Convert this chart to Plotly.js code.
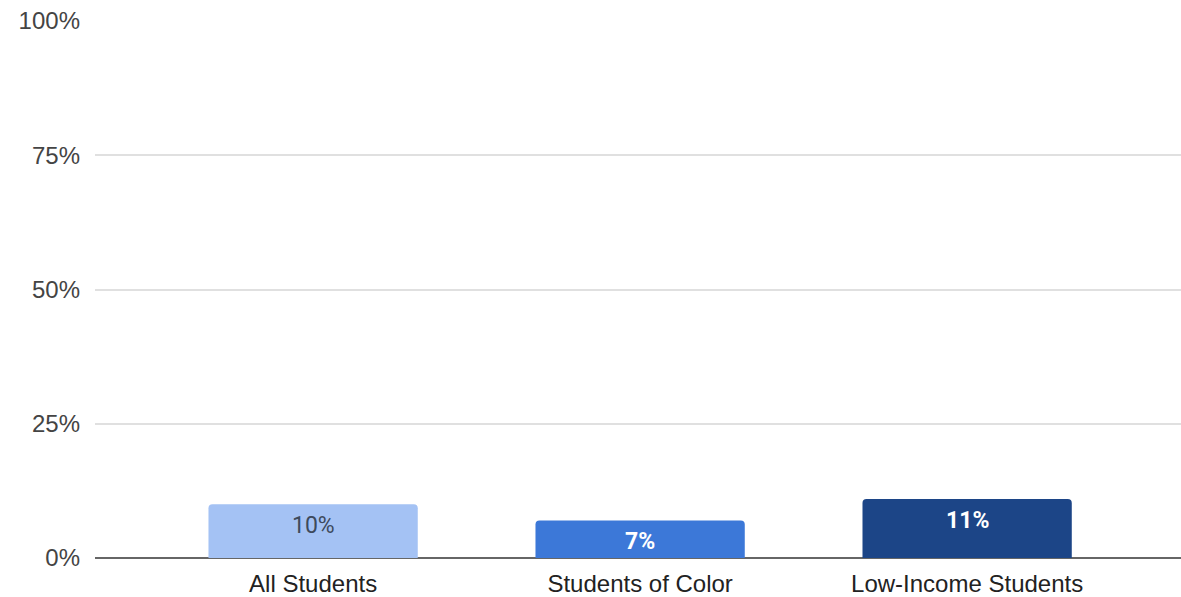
<!DOCTYPE html>
<html>
<head>
<meta charset="utf-8">
<script src="https://cdn.plot.ly/plotly-3.0.1.min.js"></script>
<style>html,body{margin:0;padding:0;background:#fff;}#chart{width:1181px;height:597px;}</style>
</head>
<body>
<div id="chart"></div>
<script>
const categories = ["All Students", "Students of Color", "Low-Income Students"];
const values = [0.10, 0.07, 0.11];
const labels = ["10%", "7%", "11%"];
const barColors = ["#a4c2f4", "#3c78d8", "#1c4587"];
const labelColors = ["#3d4a5c", "#ffffff", "#ffffff"];
const labelWeights = ["normal", "bold", "bold"];
const yTicks = [0, 0.25, 0.5, 0.75, 1];
const yTickText = ["0%", "25%", "50%", "75%", "100%"];

const trace = {
  type: "bar",
  x: [0, 1, 2],
  y: values,
  width: 0.64,
  marker: {color: barColors, cornerradius: 4},
  hoverinfo: "none"
};

const annotations = values.map((v, i) => ({
  x: i, y: v, xref: "x", yref: "y",
  text: labels[i], showarrow: false,
  yanchor: "top", yshift: -6,
  font: {family: "Roboto, Arial, sans-serif", size: 23, color: labelColors[i], weight: labelWeights[i]}
}));

const layout = {
  width: 1181, height: 597,
  margin: {l: 95, r: 0, t: 21, b: 39},
  paper_bgcolor: "#fff", plot_bgcolor: "#fff",
  showlegend: false,
  font: {family: "'Liberation Sans', Arial, sans-serif", size: 24, color: "#444"},
  xaxis: {
    range: [-0.667, 2.654],
    tickvals: [0, 1, 2], ticktext: categories,
    showgrid: false, zeroline: false,
    showline: false, ticks: "", ticklabelstandoff: 9,
    tickfont: {size: 24, color: "#222"}
  },
  yaxis: {
    range: [0, 1],
    tickvals: yTicks, ticktext: yTickText,
    showgrid: true, gridcolor: "#e0e0e0", gridwidth: 2,
    zeroline: true, zerolinecolor: "#666", zerolinewidth: 2,
    showline: false, ticks: "", ticklabelstandoff: 14,
    tickfont: {size: 24, color: "#444"}
  },
  annotations: annotations
};

Plotly.newPlot("chart", [trace], layout, {displayModeBar: false, staticPlot: true});
</script>
</body>
</html>
